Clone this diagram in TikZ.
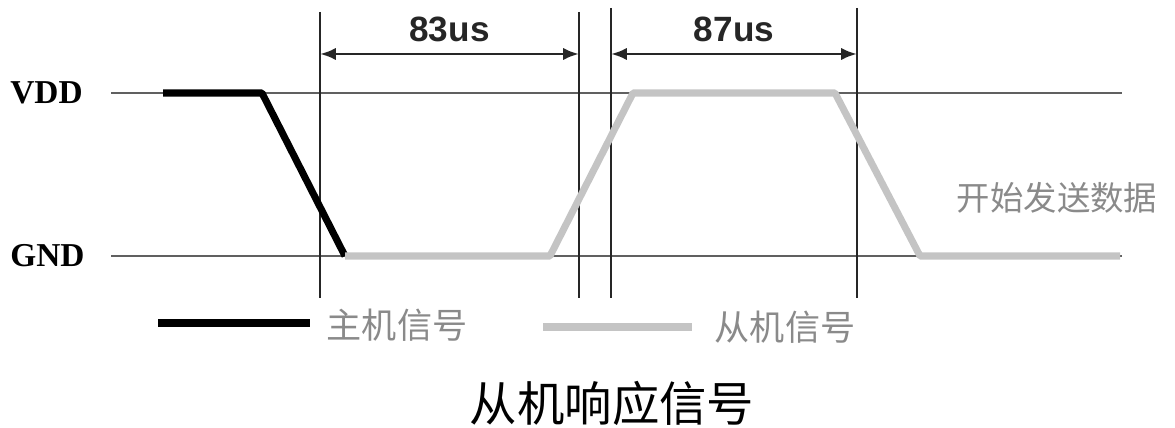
\documentclass[tikz,border=0pt]{standalone}
\usepackage{fontspec}
\setmainfont{Liberation Serif}
\newfontfamily\cjk{Noto Sans CJK SC}
\newfontfamily\numfont{Liberation Sans}
\usepackage{tikz}
\usetikzlibrary{arrows,arrows.meta,positioning,calc}
\definecolor{slavegray}{HTML}{C4C4C4}
\definecolor{labelgray}{HTML}{8A8A8A}
\tikzstyle{levelnode} = [font=\fontsize{19}{19}\selectfont\bfseries, anchor=west, inner sep=0pt]
\tikzstyle{timenode}  = [font=\numfont\fontsize{20}{20}\selectfont\bfseries, inner sep=0pt]
\tikzstyle{cjknode}   = [font=\cjk\fontsize{19}{19}\selectfont, text=labelgray, inner sep=0pt]
\tikzstyle{guide}     = [draw, gray!75!black, line width=0.9pt]
\tikzstyle{marker}    = [draw, black!85, line width=1.2pt]
\tikzstyle{master}    = [draw, black, line width=4pt, line join=round]
\tikzstyle{slave}     = [draw, slavegray, line width=4pt, line join=round]
\tikzstyle{line}      = [draw, {Latex[length=9pt,width=7pt]}-{Latex[length=9pt,width=7pt]}, black!85, line width=1.6pt]

\begin{document}
\begin{tikzpicture}[x=0.02cm, y=-0.02cm]
    \useasboundingbox (0,0) rectangle (1175,428);
    % Place nodes

    \node [levelnode] (vdd) at (10,93)  {VDD};
    \node [levelnode] (gnd) at (10,256) {GND};

    \coordinate (vddL) at (111,93);  \coordinate (vddR) at (1122,93);
    \coordinate (gndL) at (111,256); \coordinate (gndR) at (1122,256);

    \path [guide] (vddL) -- (vddR);
    \path [guide] (gndL) -- (gndR);

    % time markers
    \coordinate (m0top) at (320,12); \coordinate (m0bot) at (320,298);
    \coordinate (m1top) at (579,12); \coordinate (m1bot) at (579,298);
    \coordinate (m2top) at (611,8);  \coordinate (m2bot) at (611,298);
    \coordinate (m3top) at (857,8);  \coordinate (m3bot) at (857,298);
    \path [marker] (m0top) -- (m0bot);
    \path [marker] (m1top) -- (m1bot);
    \path [marker] (m2top) -- (m2bot);
    \path [marker] (m3top) -- (m3bot);

    \coordinate (a0) at (320,54); \coordinate (a1) at (579,54);
    \coordinate (a2) at (611,54); \coordinate (a3) at (857,54);
    \path [line] (a0) -- node [timenode, above=6pt] (t83) {83us} (a1);
    \path [line] (a2) -- node [timenode, above=6pt] (t87) {87us} (a3);

    % master signal
    \path [master] (163,93) -- (262,93) -- (345,256);
    % slave signal
    \path [slave] (345,256) -- (550,256) -- (633,93) -- (835,93) -- (920,256) -- (1120,256);

    \node [cjknode] (send) at (1057,198) {开始发送数据};

    % legend
    \coordinate (lm0) at (158,323); \coordinate (lm1) at (310,323);
    \coordinate (ls0) at (543,327); \coordinate (ls1) at (692,327);
    \path [master] (lm0) -- (lm1);
    \path [slave] (ls0) -- (ls1);
    \node [cjknode, font=\cjk\fontsize{20}{20}\selectfont] (mlabel) at (397,325) {主机信号};
    \node [cjknode, font=\cjk\fontsize{20}{20}\selectfont] (slabel) at (785,327) {从机信号};

    \node [font=\cjk\fontsize{27}{27}\selectfont, inner sep=0pt] (title) at (612,403) {从机响应信号};
\end{tikzpicture}
\end{document}
